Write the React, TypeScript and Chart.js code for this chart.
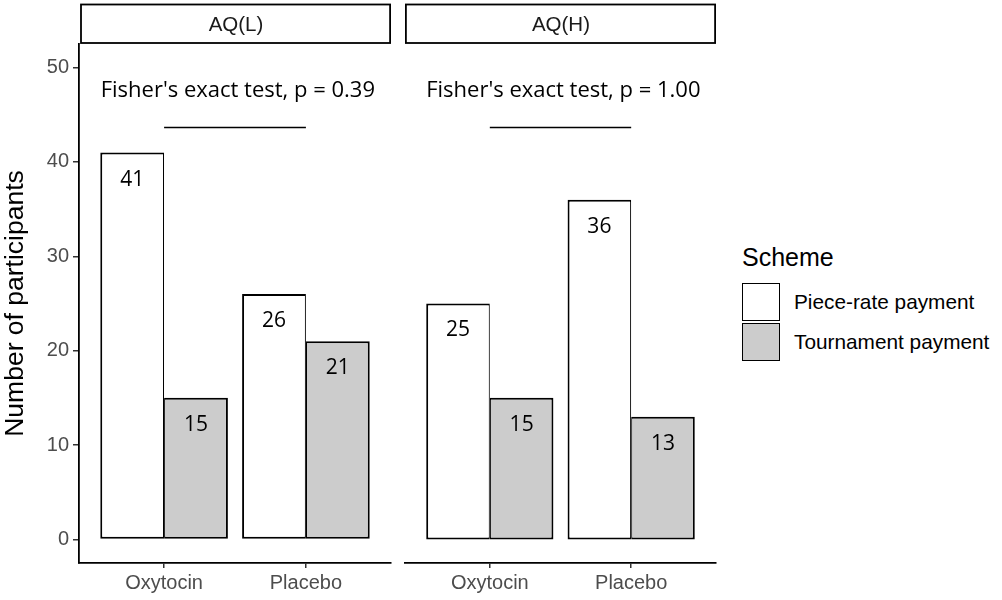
import React, { useEffect, useRef } from "react";
import { Chart, registerables } from "chart.js";

Chart.register(...registerables);

const categories = ["Oxytocin", "Placebo"];
const panelTitles = ["AQ(L)", "AQ(H)"];
const schemes = ["Piece-rate payment", "Tournament payment"];
const pieceRateL = [41, 26];
const tournamentL = [15, 21];
const pieceRateH = [25, 36];
const tournamentH = [15, 13];
const fisherP = ["0.39", "1.00"];
const yTicks = [0, 10, 20, 30, 40, 50];
const annotTextY = 47.5;
const annotLineY = 43.7;
const schemeColors = ["#FFFFFF", "#CCCCCC"];

const SANS = "'Liberation Sans', Arial, sans-serif";
const LABEL_FONT = "'Open Sans', 'Noto Sans', sans-serif";

type PanelProps = {
  idx: number;
  left: number;
  width: number;
  padLeft: number;
  padRight: number;
  showY: boolean;
  piece: number[];
  tourn: number[];
};

function Panel(props: PanelProps) {
  const ref = useRef<HTMLCanvasElement | null>(null);
  useEffect(() => {
    if (!ref.current) return;
    const { idx, showY, piece, tourn, padLeft, padRight } = props;
    const overlay = {
      id: "overlay" + idx,
      afterDatasetsDraw(chart: any) {
        const ctx = chart.ctx as CanvasRenderingContext2D;
        const xs = chart.scales.x;
        const ys = chart.scales.y;
        const area = chart.chartArea;
        ctx.save();
        // strip
        ctx.strokeStyle = "#000";
        ctx.lineWidth = 1.8;
        const sl = area.left + (showY ? 2 : 0.9);
        ctx.fillStyle = "#fff";
        ctx.fillRect(sl, 4.5, area.right - 0.9 - sl, 38.5);
        ctx.strokeRect(sl, 4.5, area.right - 0.9 - sl, 38.5);
        ctx.fillStyle = "#1a1a1a";
        ctx.font = `20.5px ${SANS}`;
        ctx.textAlign = "center";
        ctx.textBaseline = "middle";
        ctx.fillText(panelTitles[idx], (sl + area.right) / 2, 25);
        // bar labels
        ctx.fillStyle = "#000";
        ctx.font = `21px ${LABEL_FONT}`;
        chart.data.datasets.forEach((ds: any, di: number) => {
          const meta = chart.getDatasetMeta(di);
          meta.data.forEach((el: any, i: number) => {
            ctx.fillText(String(ds.data[i].y), el.x, el.y + 27);
          });
        });
        // fisher annotation
        ctx.font = `22px ${LABEL_FONT}`;
        ctx.fillText(
          "Fisher's exact test, p = " + fisherP[idx],
          xs.getPixelForValue(1.52),
          ys.getPixelForValue(annotTextY)
        );
        ctx.beginPath();
        ctx.lineWidth = 1.4;
        const ly = Math.round(ys.getPixelForValue(annotLineY)) + 0.5;
        ctx.moveTo(xs.getPixelForValue(1), ly);
        ctx.lineTo(xs.getPixelForValue(2), ly);
        ctx.stroke();
        ctx.restore();
      },
    };
    const mk = (vals: number[]) => categories.map((_, i) => ({ x: i + 1, y: vals[i] }));
    const chart = new Chart(ref.current, {
      type: "bar",
      data: {
        datasets: [
          {
            label: schemes[0],
            data: mk(piece) as any,
            backgroundColor: schemeColors[0],
            borderColor: "#000",
            borderWidth: { top: 2, left: 2, bottom: 2, right: 1.1 } as any,
            borderSkipped: false,
          },
          {
            label: schemes[1],
            data: mk(tourn) as any,
            backgroundColor: schemeColors[1],
            borderColor: "#000",
            borderWidth: { top: 2, left: 1.1, bottom: 2, right: 2 } as any,
            borderSkipped: false,
          },
        ],
      },
      options: {
        animation: false,
        responsive: false,
        maintainAspectRatio: false,
        layout: { padding: { top: 44, left: padLeft, right: padRight, bottom: 0 } },
        datasets: { bar: { categoryPercentage: 0.9, barPercentage: 1 } } as any,
        plugins: { legend: { display: false }, tooltip: { enabled: false } },
        scales: {
          x: {
            type: "linear",
            min: 0.4,
            max: 2.6,
            bounds: "data",
            offset: false,
            afterBuildTicks: (s: any) => {
              s.ticks = categories.map((_, i) => ({ value: i + 1 }));
            },
            afterFit: (s: any) => {
              s.height = 37;
            },
            ticks: {
              callback: (v: any) => categories[Math.round(Number(v)) - 1] ?? "",
              color: "#4d4d4d",
              font: { family: SANS, size: 20 },
              padding: 3,
              autoSkip: false,
              maxRotation: 0,
            },
            grid: {
              display: true,
              offset: false,
              drawOnChartArea: false,
              drawTicks: true,
              tickLength: 5,
              color: "#333",
              lineWidth: 1.5,
            },
            border: { display: true, color: "#000", width: 1.8 },
          } as any,
          y: {
            type: "linear",
            min: -2.5,
            max: 52.5,
            bounds: "data",
            display: showY,
            afterBuildTicks: (s: any) => {
              s.ticks = yTicks.map((v) => ({ value: v }));
            },
            afterFit: (s: any) => {
              s.width = showY ? 79 : 0;
            },
            title: {
              display: true,
              text: "Number of participants",
              color: "#000",
              font: { family: SANS, size: 26.5 },
              padding: { top: 0, bottom: 0 },
            },
            ticks: {
              color: "#4d4d4d",
              font: { family: SANS, size: 20 },
              padding: 4,
            },
            grid: {
              display: true,
              drawOnChartArea: false,
              drawTicks: true,
              tickLength: 6,
              color: "#333",
              lineWidth: 1.5,
            },
            border: { display: true, color: "#000", width: 1.8 },
          } as any,
        },
      },
      plugins: [overlay],
    });
    return () => chart.destroy();
  }, []);
  return (
    <canvas
      ref={ref}
      width={props.width}
      height={600}
      style={{ position: "absolute", left: props.left, top: 0, width: props.width, height: 600 }}
    />
  );
}

export default function App() {
  return (
    <div
      style={{
        position: "fixed",
        left: 0,
        top: 0,
        width: 1002,
        height: 600,
        background: "#fff",
        overflow: "hidden",
      }}
    >
      <Panel idx={0} left={0} width={395} padLeft={0} padRight={4} showY={true} piece={pieceRateL} tourn={tournamentL} />
      <Panel idx={1} left={395} width={335} padLeft={10} padRight={14} showY={false} piece={pieceRateH} tourn={tournamentH} />
      <div
        style={{
          position: "absolute",
          left: 742,
          top: 240,
          fontFamily: SANS,
          fontSize: 25,
          color: "#000",
          lineHeight: "34px",
        }}
      >
        Scheme
      </div>
      {schemes.map((s, i) => (
        <React.Fragment key={s}>
          <div
            style={{
              position: "absolute",
              left: 742,
              top: 283 + i * 40,
              width: 38,
              height: 38,
              boxSizing: "border-box",
              border: "1.8px solid #000",
              background: schemeColors[i],
            }}
          />
          <div
            style={{
              position: "absolute",
              left: 794,
              top: 283 + i * 40,
              height: 38,
              lineHeight: "38px",
              fontFamily: SANS,
              fontSize: 20.8,
              color: "#000",
              whiteSpace: "nowrap",
            }}
          >
            {s}
          </div>
        </React.Fragment>
      ))}
    </div>
  );
}
